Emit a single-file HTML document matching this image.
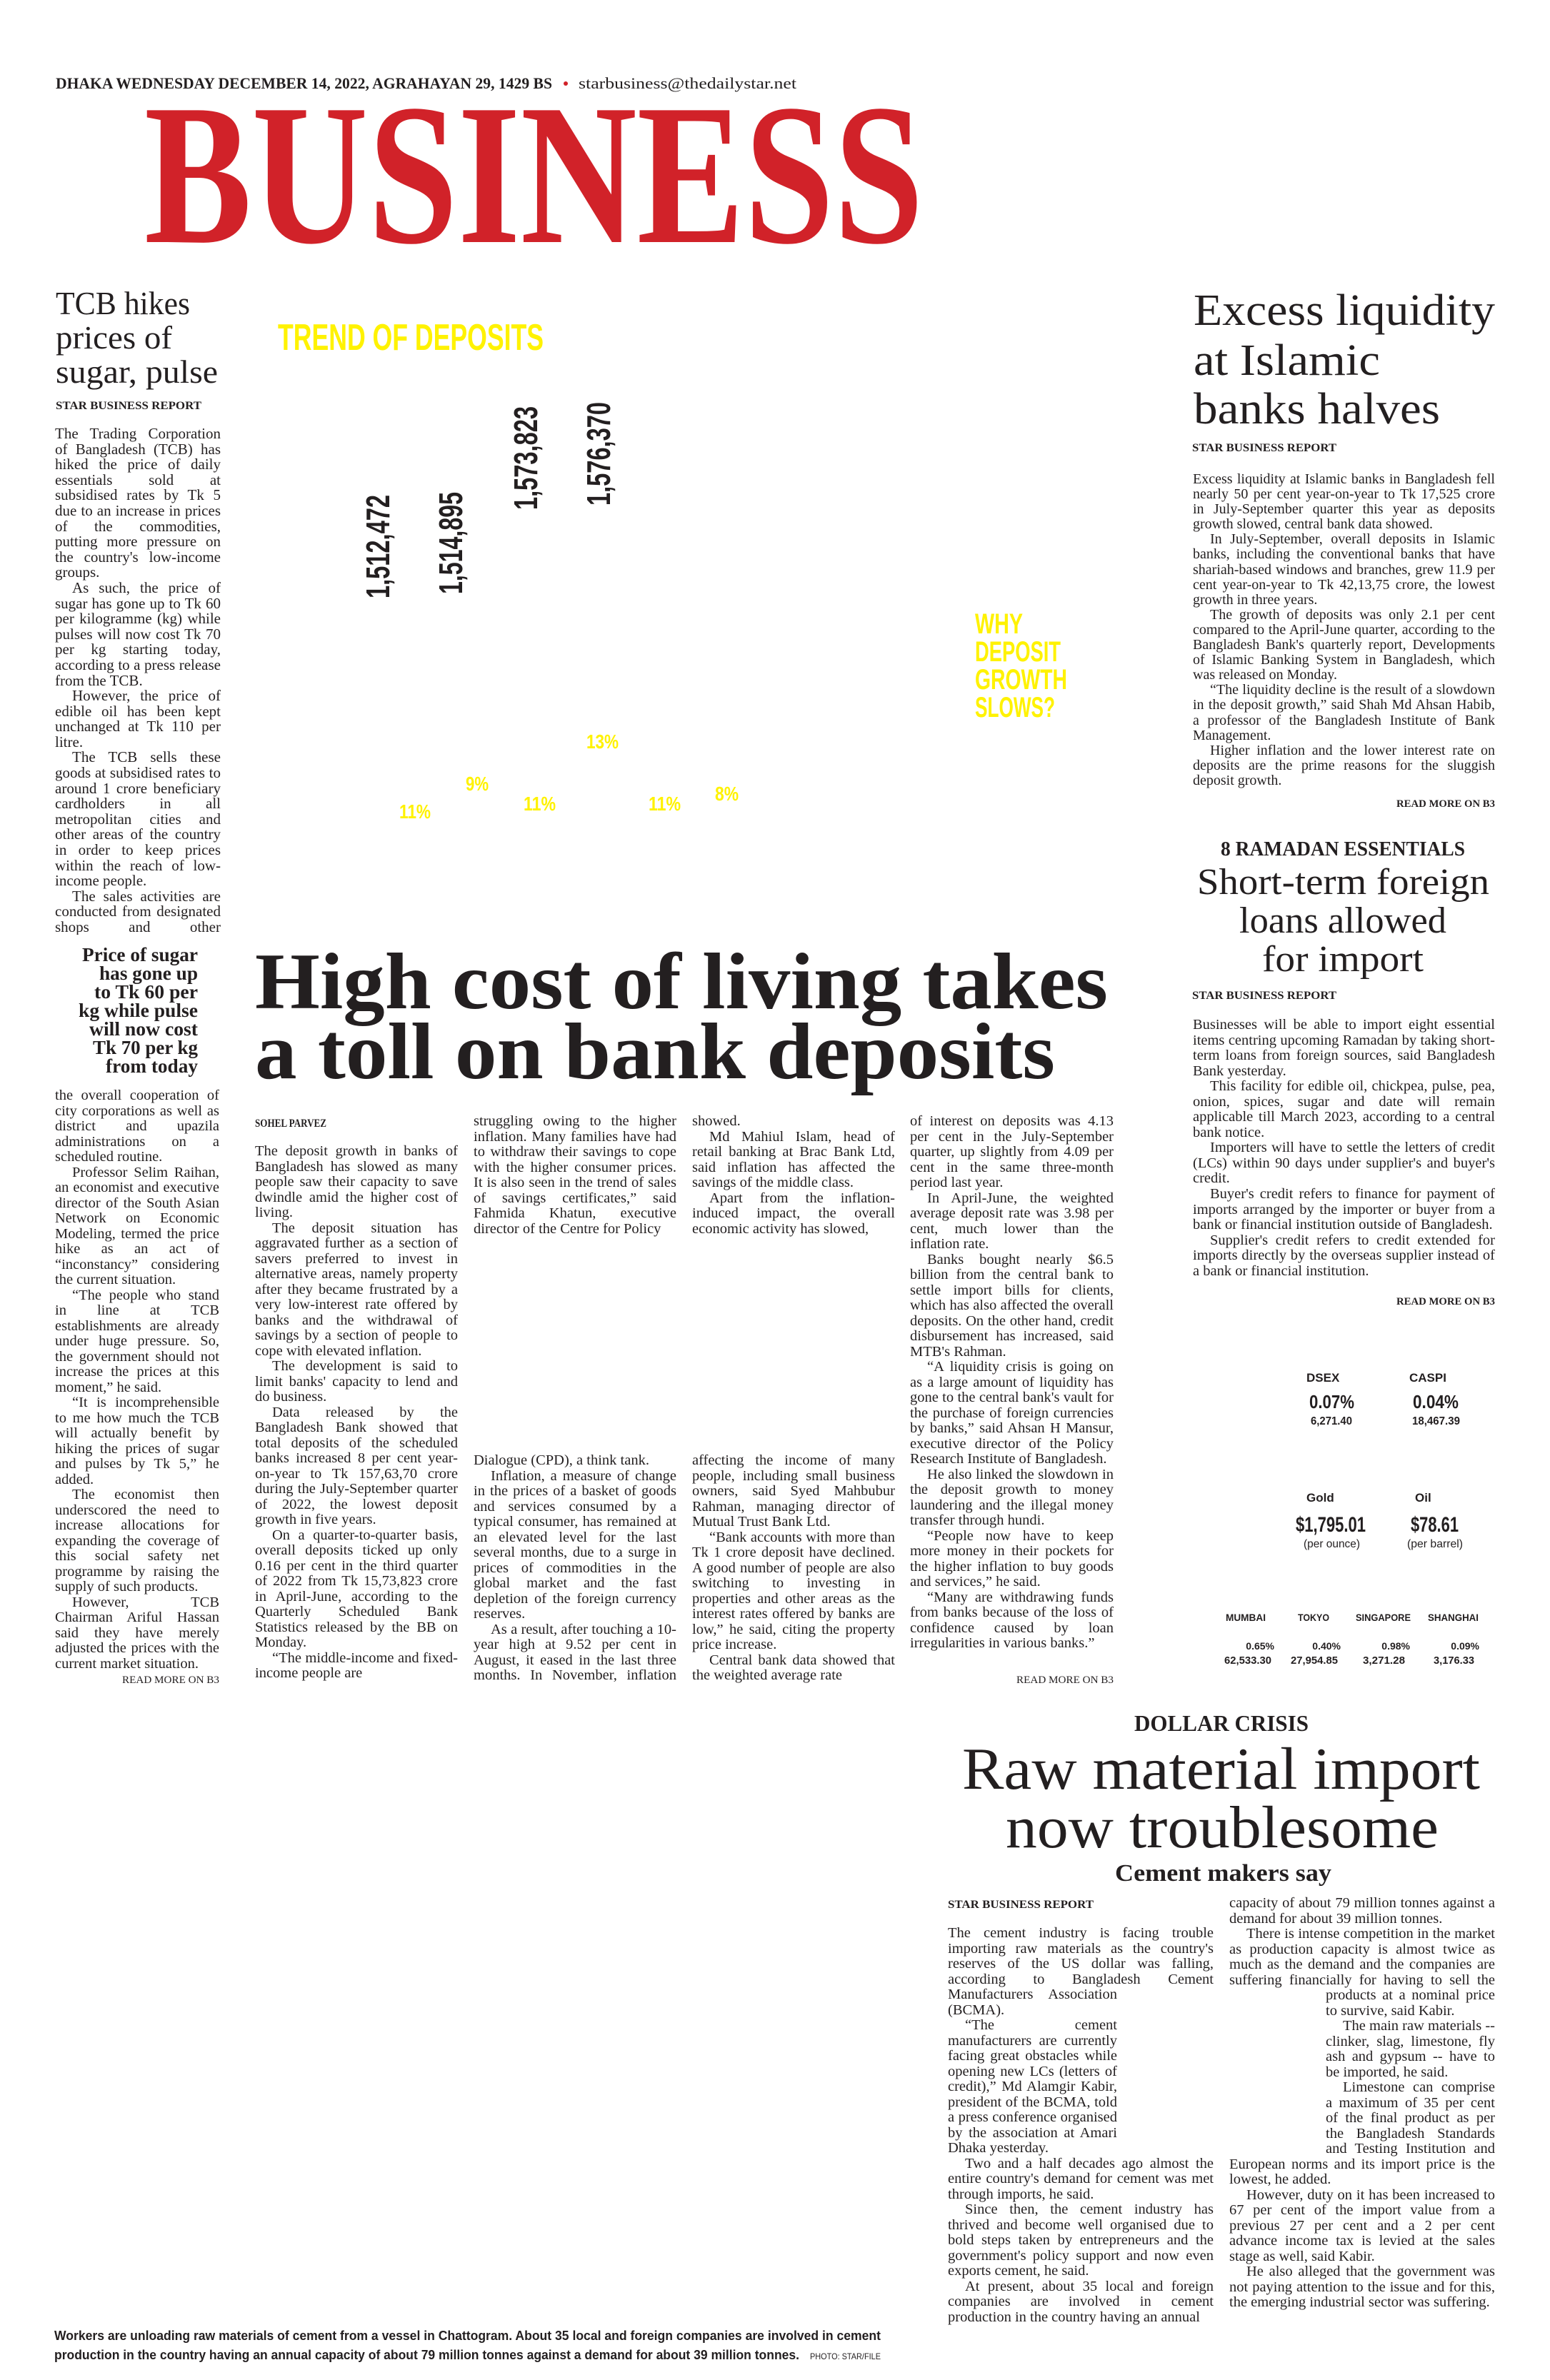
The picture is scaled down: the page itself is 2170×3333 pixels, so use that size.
<!DOCTYPE html>
<html><head><meta charset="utf-8">
<style>
html,body{margin:0;padding:0;background:#fff;}
body{width:2170px;height:3333px;position:relative;overflow:hidden;color:#231f20;font-family:"Liberation Serif",serif;}
.col{position:absolute;text-align:justify;line-height:21.5px;overflow:hidden;}
.col p{margin:0;text-indent:24px;}
.col p.ni{text-indent:0;}
.m{font-size:20.5px;}
svg{position:absolute;left:0;top:0;}
</style></head><body>

<div class="col" style="left:77px;top:597px;width:232px;height:712px;font-size:21px;line-height:21.6px;">
<p class="ni">The Trading Corporation of Bangladesh (TCB) has hiked the price of daily essentials sold at subsidised rates by Tk 5 due to an increase in prices of the commodities, putting more pressure on the country's low-income groups.</p>
<p>As such, the price of sugar has gone up to Tk 60 per kilogramme (kg) while pulses will now cost Tk 70 per kg starting today, according to a press release from the TCB.</p>
<p>However, the price of edible oil has been kept unchanged at Tk 110 per litre.</p>
<p>The TCB sells these goods at subsidised rates to around 1 crore beneficiary cardholders in all metropolitan cities and other areas of the country in order to keep prices within the reach of low-income people.</p>
<p>The sales activities are conducted from designated shops and other establishments with</p>
</div>

<div class="col" style="left:77px;top:1524px;width:230px;height:816px;font-size:20.5px;">
<p class="ni">the overall cooperation of city corporations as well as district and upazila administrations on a scheduled routine.</p>
<p>Professor Selim Raihan, an economist and executive director of the South Asian Network on Economic Modeling, termed the price hike as an act of “inconstancy” considering the current situation.</p>
<p>“The people who stand in line at TCB establishments are already under huge pressure. So, the government should not increase the prices at this moment,” he said.</p>
<p>“It is incomprehensible to me how much the TCB will actually benefit by hiking the prices of sugar and pulses by Tk 5,” he added.</p>
<p>The economist then underscored the need to increase allocations for expanding the coverage of this social safety net programme by raising the supply of such products.</p>
<p>However, TCB Chairman Ariful Hassan said they have merely adjusted the prices with the current market situation.</p>
</div>

<div class="col m" style="left:357px;top:1602px;width:284px;height:752px;">
<p class="ni">The deposit growth in banks of Bangladesh has slowed as many people saw their capacity to save dwindle amid the higher cost of living.</p>
<p>The deposit situation has aggravated further as a section of savers preferred to invest in alternative areas, namely property after they became frustrated by a very low-interest rate offered by banks and the withdrawal of savings by a section of people to cope with elevated inflation.</p>
<p>The development is said to limit banks' capacity to lend and do business.</p>
<p>Data released by the Bangladesh Bank showed that total deposits of the scheduled banks increased 8 per cent year-on-year to Tk 157,63,70 crore during the July-September quarter of 2022, the lowest deposit growth in five years.</p>
<p>On a quarter-to-quarter basis, overall deposits ticked up only 0.16 per cent in the third quarter of 2022 from Tk 15,73,823 crore in April-June, according to the Quarterly Scheduled Bank Statistics released by the BB on Monday.</p>
<p>“The middle-income and fixed-income people are</p>
</div>
<div class="col m" style="left:663px;top:1560px;width:284px;height:172px;">
<p class="ni">struggling owing to the higher inflation. Many families have had to withdraw their savings to cope with the higher consumer prices. It is also seen in the trend of sales of savings certificates,” said Fahmida Khatun, executive director of the Centre for Policy</p>
</div>
<div class="col m" style="left:663px;top:2035px;width:284px;height:322px;">
<p class="ni">Dialogue (CPD), a think tank.</p>
<p>Inflation, a measure of change in the prices of a basket of goods and services consumed by a typical consumer, has remained at an elevated level for the last several months, due to a surge in prices of commodities in the global market and the fast depletion of the foreign currency reserves.</p>
<p>As a result, after touching a 10-year high at 9.52 per cent in August, it eased in the last three months. In November, inflation was 8.85 per cent, official data</p>
</div>
<div class="col m" style="left:969px;top:1560px;width:284px;height:172px;">
<p class="ni">showed.</p>
<p>Md Mahiul Islam, head of retail banking at Brac Bank Ltd, said inflation has affected the savings of the middle class.</p>
<p>Apart from the inflation-induced impact, the overall economic activity has slowed,</p>
</div>
<div class="col m" style="left:969px;top:2035px;width:284px;height:322px;">
<p class="ni">affecting the income of many people, including small business owners, said Syed Mahbubur Rahman, managing director of Mutual Trust Bank Ltd.</p>
<p>“Bank accounts with more than Tk 1 crore deposit have declined. A good number of people are also switching to investing in properties and other areas as the interest rates offered by banks are low,” he said, citing the property price increase.</p>
<p>Central bank data showed that the weighted average rate</p>
</div>
<div class="col m" style="left:1274px;top:1560px;width:285px;height:780px;">
<p class="ni">of interest on deposits was 4.13 per cent in the July-September quarter, up slightly from 4.09 per cent in the same three-month period last year.</p>
<p>In April-June, the weighted average deposit rate was 3.98 per cent, much lower than the inflation rate.</p>
<p>Banks bought nearly $6.5 billion from the central bank to settle import bills for clients, which has also affected the overall deposits. On the other hand, credit disbursement has increased, said MTB's Rahman.</p>
<p>“A liquidity crisis is going on as a large amount of liquidity has gone to the central bank's vault for the purchase of foreign currencies by banks,” said Ahsan H Mansur, executive director of the Policy Research Institute of Bangladesh.</p>
<p>He also linked the slowdown in the deposit growth to money laundering and the illegal money transfer through hundi.</p>
<p>“People now have to keep more money in their pockets for the higher inflation to buy goods and services,” he said.</p>
<p>“Many are withdrawing funds from banks because of the loss of confidence caused by loan irregularities in various banks.”</p>
</div>

<div class="col" style="left:1670px;top:661px;width:423px;height:445px;font-size:20px;line-height:21.1px;">
<p class="ni">Excess liquidity at Islamic banks in Bangladesh fell nearly 50 per cent year-on-year to Tk 17,525 crore in July-September quarter this year as deposits growth slowed, central bank data showed.</p>
<p>In July-September, overall deposits in Islamic banks, including the conventional banks that have shariah-based windows and branches, grew 11.9 per cent year-on-year to Tk 42,13,75 crore, the lowest growth in three years.</p>
<p>The growth of deposits was only 2.1 per cent compared to the April-June quarter, according to the Bangladesh Bank's quarterly report, Developments of Islamic Banking System in Bangladesh, which was released on Monday.</p>
<p>“The liquidity decline is the result of a slowdown in the deposit growth,” said Shah Md Ahsan Habib, a professor of the Bangladesh Institute of Bank Management.</p>
<p>Higher inflation and the lower interest rate on deposits are the prime reasons for the sluggish deposit growth.</p>
</div>

<div class="col" style="left:1670px;top:1425px;width:423px;height:390px;font-size:20.5px;line-height:21.55px;">
<p class="ni">Businesses will be able to import eight essential items centring upcoming Ramadan by taking short-term loans from foreign sources, said Bangladesh Bank yesterday.</p>
<p>This facility for edible oil, chickpea, pulse, pea, onion, spices, sugar and date will remain applicable till March 2023, according to a central bank notice.</p>
<p>Importers will have to settle the letters of credit (LCs) within 90 days under supplier's and buyer's credit.</p>
<p>Buyer's credit refers to finance for payment of imports arranged by the importer or buyer from a bank or financial institution outside of Bangladesh.</p>
<p>Supplier's credit refers to credit extended for imports directly by the overseas supplier instead of a bank or financial institution.</p>
</div>

<div class="col" style="left:1327px;top:2697px;width:372px;height:610px;font-size:20.5px;">
<div style="float:right;width:0;height:86px;"></div>
<div style="float:right;clear:right;width:135px;height:236px;"></div>
<p class="ni">The cement industry is facing trouble importing raw materials as the country's reserves of the US dollar was falling, according to Bangladesh Cement Manufacturers Association (BCMA).</p>
<p>“The cement manufacturers are currently facing great obstacles while opening new LCs (letters of credit),” Md Alamgir Kabir, president of the BCMA, told a press conference organised by the association at Amari Dhaka yesterday.</p>
<p>Two and a half decades ago almost the entire country's demand for cement was met through imports, he said.</p>
<p>Since then, the cement industry has thrived and become well organised due to bold steps taken by entrepreneurs and the government's policy support and now even exports cement, he said.</p>
<p>At present, about 35 local and foreign companies are involved in cement production in the country having an annual</p>
</div>
<div class="col" style="left:1721px;top:2655px;width:372px;height:660px;font-size:20.5px;">
<div style="float:left;width:0;height:129px;"></div>
<div style="float:left;clear:left;width:135px;height:236px;"></div>
<p class="ni">capacity of about 79 million tonnes against a demand for about 39 million tonnes.</p>
<p>There is intense competition in the market as production capacity is almost twice as much as the demand and the companies are suffering financially for having to sell the products at a nominal price to survive, said Kabir.</p>
<p>The main raw materials -- clinker, slag, limestone, fly ash and gypsum -- have to be imported, he said.</p>
<p>Limestone can comprise a maximum of 35 per cent of the final product as per the Bangladesh Standards and Testing Institution and European norms and its import price is the lowest, he added.</p>
<p>However, duty on it has been increased to 67 per cent of the import value from a previous 27 per cent and a 2 per cent advance income tax is levied at the sales stage as well, said Kabir.</p>
<p>He also alleged that the government was not paying attention to the issue and for this, the emerging industrial sector was suffering.</p>
</div>

<svg width="2170" height="3333" viewBox="0 0 2170 3333" xmlns="http://www.w3.org/2000/svg" font-family="Liberation Serif, serif" fill="#231f20">
<text x="78" y="124" font-size="22" font-weight="bold" textLength="695" lengthAdjust="spacingAndGlyphs">DHAKA WEDNESDAY DECEMBER 14, 2022, AGRAHAYAN 29, 1429 BS</text>
<circle cx="792" cy="117" r="3" fill="#d12229"/>
<text x="810" y="124" font-size="22" textLength="305" lengthAdjust="spacingAndGlyphs">starbusiness@thedailystar.net</text>
<text x="202" y="339" font-size="282" font-weight="bold" fill="#d12229" textLength="1091" lengthAdjust="spacingAndGlyphs">BUSINESS</text>

<text x="78" y="440" font-size="46" textLength="188" lengthAdjust="spacingAndGlyphs">TCB hikes</text>
<text x="78" y="488" font-size="46" textLength="163" lengthAdjust="spacingAndGlyphs">prices of</text>
<text x="78" y="536" font-size="46" textLength="227" lengthAdjust="spacingAndGlyphs">sugar, pulse</text>
<text x="78" y="573" font-size="16" font-weight="bold" textLength="204" lengthAdjust="spacingAndGlyphs">STAR BUSINESS REPORT</text>

<g font-size="27" font-weight="bold" text-anchor="end">
<text x="277" y="1346" textLength="162" lengthAdjust="spacingAndGlyphs">Price of sugar</text>
<text x="277" y="1372" textLength="138" lengthAdjust="spacingAndGlyphs">has gone up</text>
<text x="277" y="1398" textLength="145" lengthAdjust="spacingAndGlyphs">to Tk 60 per</text>
<text x="277" y="1424" textLength="167" lengthAdjust="spacingAndGlyphs">kg while pulse</text>
<text x="277" y="1450" textLength="152" lengthAdjust="spacingAndGlyphs">will now cost</text>
<text x="277" y="1476" textLength="147" lengthAdjust="spacingAndGlyphs">Tk 70 per kg</text>
<text x="277" y="1502" textLength="129" lengthAdjust="spacingAndGlyphs">from today</text>
</g>
<text x="307" y="2357" font-size="15" text-anchor="end" textLength="136" lengthAdjust="spacingAndGlyphs">READ MORE ON B3</text>

<g fill="#fff200" font-family="Liberation Sans, sans-serif" font-weight="bold">
<text x="389" y="490" font-size="52" textLength="372" lengthAdjust="spacingAndGlyphs">TREND OF DEPOSITS</text>
<text x="1365" y="887" font-size="40" textLength="67" lengthAdjust="spacingAndGlyphs">WHY</text>
<text x="1365" y="926" font-size="40" textLength="120" lengthAdjust="spacingAndGlyphs">DEPOSIT</text>
<text x="1365" y="965" font-size="40" textLength="129" lengthAdjust="spacingAndGlyphs">GROWTH</text>
<text x="1365" y="1004" font-size="40" textLength="112" lengthAdjust="spacingAndGlyphs">SLOWS?</text>
<text x="821" y="1048" font-size="28" textLength="45" lengthAdjust="spacingAndGlyphs">13%</text>
<text x="652" y="1107" font-size="28" textLength="32" lengthAdjust="spacingAndGlyphs">9%</text>
<text x="559" y="1146" font-size="28" textLength="44" lengthAdjust="spacingAndGlyphs">11%</text>
<text x="733" y="1135" font-size="28" textLength="45" lengthAdjust="spacingAndGlyphs">11%</text>
<text x="908" y="1135" font-size="28" textLength="45" lengthAdjust="spacingAndGlyphs">11%</text>
<text x="1001" y="1121" font-size="28" textLength="33" lengthAdjust="spacingAndGlyphs">8%</text>
</g>
<g font-family="Liberation Sans, sans-serif" font-weight="bold" font-size="46">
<text transform="translate(545,838) rotate(-90)" textLength="145" lengthAdjust="spacingAndGlyphs">1,512,472</text>
<text transform="translate(647,832) rotate(-90)" textLength="143" lengthAdjust="spacingAndGlyphs">1,514,895</text>
<text transform="translate(752,714) rotate(-90)" textLength="145" lengthAdjust="spacingAndGlyphs">1,573,823</text>
<text transform="translate(854,708) rotate(-90)" textLength="145" lengthAdjust="spacingAndGlyphs">1,576,370</text>
</g>

<text x="357" y="1412" font-size="112" font-weight="bold" textLength="1194" lengthAdjust="spacingAndGlyphs">High cost of living takes</text>
<text x="357" y="1510" font-size="112" font-weight="bold" textLength="1120" lengthAdjust="spacingAndGlyphs">a toll on bank deposits</text>
<text x="357" y="1578" font-size="16" font-weight="bold" textLength="100" lengthAdjust="spacingAndGlyphs">SOHEL PARVEZ</text>
<text x="1559" y="2357" font-size="15" text-anchor="end" textLength="136" lengthAdjust="spacingAndGlyphs">READ MORE ON B3</text>

<text x="1671" y="455" font-size="62" textLength="422" lengthAdjust="spacingAndGlyphs">Excess liquidity</text>
<text x="1671" y="525" font-size="62" textLength="261" lengthAdjust="spacingAndGlyphs">at Islamic</text>
<text x="1671" y="593" font-size="62" textLength="345" lengthAdjust="spacingAndGlyphs">banks halves</text>
<text x="1669" y="632" font-size="16" font-weight="bold" textLength="202" lengthAdjust="spacingAndGlyphs">STAR BUSINESS REPORT</text>
<text x="2093" y="1130" font-size="15" font-weight="bold" text-anchor="end" textLength="138" lengthAdjust="spacingAndGlyphs">READ MORE ON B3</text>

<text x="1709" y="1198" font-size="28" font-weight="bold" textLength="342" lengthAdjust="spacingAndGlyphs">8 RAMADAN ESSENTIALS</text>
<text x="1676" y="1252" font-size="52" textLength="409" lengthAdjust="spacingAndGlyphs">Short-term foreign</text>
<text x="1735" y="1306" font-size="52" textLength="290" lengthAdjust="spacingAndGlyphs">loans allowed</text>
<text x="1767" y="1360" font-size="52" textLength="226" lengthAdjust="spacingAndGlyphs">for import</text>
<text x="1669" y="1399" font-size="16" font-weight="bold" textLength="202" lengthAdjust="spacingAndGlyphs">STAR BUSINESS REPORT</text>
<text x="2093" y="1827" font-size="15" font-weight="bold" text-anchor="end" textLength="138" lengthAdjust="spacingAndGlyphs">READ MORE ON B3</text>

<g font-family="Liberation Sans, sans-serif" font-weight="bold">
<text x="1829" y="1935" font-size="17">DSEX</text>
<text x="1973" y="1935" font-size="17">CASPI</text>
<text x="1833" y="1972" font-size="26" textLength="63" lengthAdjust="spacingAndGlyphs">0.07%</text>
<text x="1978" y="1972" font-size="26" textLength="64" lengthAdjust="spacingAndGlyphs">0.04%</text>
<text x="1835" y="1995" font-size="16" textLength="58" lengthAdjust="spacingAndGlyphs">6,271.40</text>
<text x="1977" y="1995" font-size="16" textLength="67" lengthAdjust="spacingAndGlyphs">18,467.39</text>
<text x="1829" y="2103" font-size="17">Gold</text>
<text x="1981" y="2103" font-size="17">Oil</text>
<text x="1814" y="2145" font-size="30" textLength="98" lengthAdjust="spacingAndGlyphs">$1,795.01</text>
<text x="1975" y="2145" font-size="30" textLength="67" lengthAdjust="spacingAndGlyphs">$78.61</text>
<text x="1825" y="2167" font-size="16" font-weight="normal" textLength="79" lengthAdjust="spacingAndGlyphs">(per ounce)</text>
<text x="1970" y="2167" font-size="16" font-weight="normal" textLength="78" lengthAdjust="spacingAndGlyphs">(per barrel)</text>
<text x="1716" y="2270" font-size="14" textLength="56" lengthAdjust="spacingAndGlyphs">MUMBAI</text>
<text x="1817" y="2270" font-size="14" textLength="44" lengthAdjust="spacingAndGlyphs">TOKYO</text>
<text x="1898" y="2270" font-size="14" textLength="77" lengthAdjust="spacingAndGlyphs">SINGAPORE</text>
<text x="1999" y="2270" font-size="14" textLength="71" lengthAdjust="spacingAndGlyphs">SHANGHAI</text>
<g text-anchor="end" font-size="14">
<text x="1784" y="2310">0.65%</text>
<text x="1877" y="2310">0.40%</text>
<text x="1974" y="2310">0.98%</text>
<text x="2071" y="2310">0.09%</text>
</g>
<text x="1714" y="2330" font-size="15" textLength="66" lengthAdjust="spacingAndGlyphs">62,533.30</text>
<text x="1807" y="2330" font-size="15" textLength="66" lengthAdjust="spacingAndGlyphs">27,954.85</text>
<text x="1908" y="2330" font-size="15" textLength="59" lengthAdjust="spacingAndGlyphs">3,271.28</text>
<text x="2007" y="2330" font-size="15" textLength="57" lengthAdjust="spacingAndGlyphs">3,176.33</text>
</g>

<text x="1588" y="2424" font-size="32" font-weight="bold" textLength="244" lengthAdjust="spacingAndGlyphs">DOLLAR CRISIS</text>
<text x="1347" y="2505" font-size="84" textLength="725" lengthAdjust="spacingAndGlyphs">Raw material import</text>
<text x="1408" y="2587" font-size="84" textLength="606" lengthAdjust="spacingAndGlyphs">now troublesome</text>
<text x="1561" y="2634" font-size="34" font-weight="bold" textLength="303" lengthAdjust="spacingAndGlyphs">Cement makers say</text>
<text x="1327" y="2672" font-size="16" font-weight="bold" textLength="204" lengthAdjust="spacingAndGlyphs">STAR BUSINESS REPORT</text>

<g font-family="Liberation Sans, sans-serif" font-weight="bold">
<text x="76" y="3277" font-size="18" textLength="1157" lengthAdjust="spacingAndGlyphs">Workers are unloading raw materials of cement from a vessel in Chattogram. About 35 local and foreign companies are involved in cement</text>
<text x="76" y="3304" font-size="18" textLength="1043" lengthAdjust="spacingAndGlyphs">production in the country having an annual capacity of about 79 million tonnes against a demand for about 39 million tonnes.</text>
<text x="1134" y="3304" font-size="12" font-weight="normal" textLength="99" lengthAdjust="spacingAndGlyphs">PHOTO: STAR/FILE</text>
</g>
</svg>
</body></html>
